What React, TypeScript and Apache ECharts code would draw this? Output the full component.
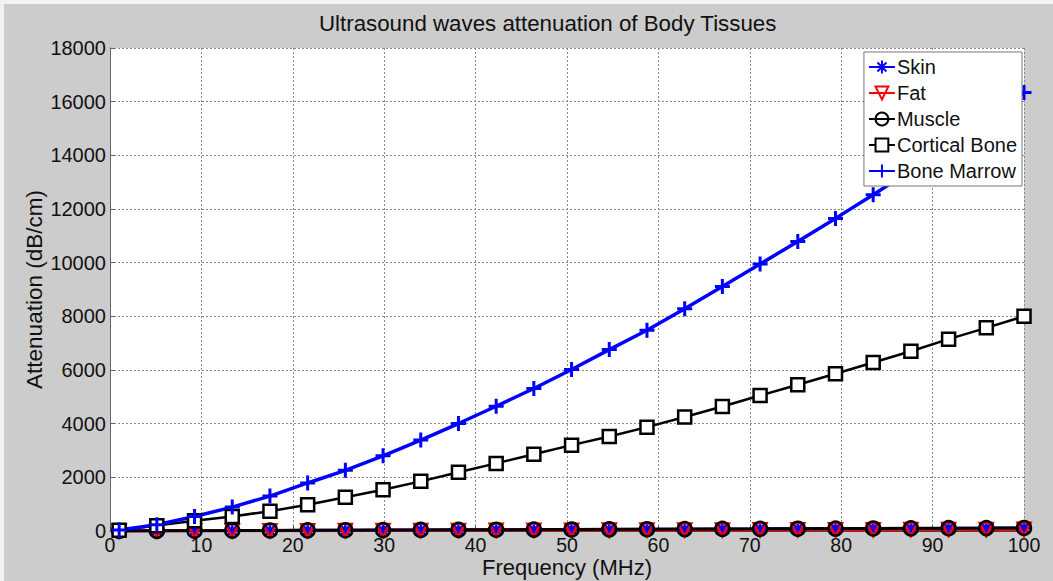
import React, { useEffect, useRef } from "react";
import * as echarts from "echarts";

const frequencies = [1, 5.125, 9.25, 13.375, 17.5, 21.625, 25.75, 29.875, 34, 38.125, 42.25, 46.375, 50.5, 54.625, 58.75, 62.875, 67, 71.125, 75.25, 79.375, 83.5, 87.625, 91.75, 95.875, 100];
const skin = [1, 5, 10, 14, 19, 24, 28, 33, 37, 42, 46, 51, 56, 60, 65, 69, 74, 79, 83, 88, 92, 97, 101, 106, 110];
const fat = [1, 3, 6, 8, 11, 13, 16, 18, 21, 23, 26, 28, 31, 33, 36, 38, 41, 43, 46, 48, 51, 53, 56, 58, 61];
const muscle = [1, 6, 11, 15, 20, 25, 29, 34, 39, 43, 48, 52, 57, 62, 66, 71, 76, 80, 85, 90, 94, 99, 104, 108, 113];
const corticalBone = [30, 200, 380, 540, 740, 980, 1260, 1540, 1850, 2190, 2520, 2860, 3200, 3520, 3870, 4250, 4640, 5050, 5450, 5860, 6280, 6700, 7150, 7570, 8000];
const boneMarrow = [40, 230, 540, 890, 1300, 1790, 2260, 2800, 3390, 4005, 4650, 5310, 6020, 6760, 7480, 8280, 9110, 9950, 10790, 11650, 12530, 13440, 14370, 15340, 16340];
const seriesNames = ["Skin", "Fat", "Muscle", "Cortical Bone", "Bone Marrow"];

const FONT = "'Liberation Sans', Arial, sans-serif";
const ASTERISK = "path://M0,-10L0,10M-10,0L10,0M-7,-7L7,7M-7,7L7,-7";
const PLUS = "path://M0,-10L0,10M-10,0L10,0";

function pairs(ys: number[]) {
  return frequencies.map((f, i) => [f, ys[i]]);
}

export default function App() {
  const ref = useRef<HTMLDivElement>(null);
  useEffect(() => {
    document.body.style.margin = "0";
    const chart = echarts.init(ref.current!, undefined, { renderer: "svg" });
    const mk = (name: string, ys: number[], color: string, symbol: string, size: number, fill: string, lw: number, bw: number, rotate = 0) => ({
      name,
      type: "line",
      data: pairs(ys),
      symbol,
      symbolSize: size,
      symbolRotate: rotate,
      showAllSymbol: true,
      lineStyle: { color, width: lw },
      itemStyle: { color: fill, borderColor: color, borderWidth: bw },
      emphasis: { disabled: true },
    });
    chart.setOption({
      animation: false,
      backgroundColor: "#cccccc",
      textStyle: { fontFamily: FONT },
      title: {
        text: "Ultrasound waves attenuation of Body Tissues",
        left: 310,
        top: 3,
        textStyle: { fontFamily: FONT, fontSize: 22.3, fontWeight: "normal", color: "#111" },
      },
      grid: { left: 106, right: 29, top: 44, bottom: 50, show: true, backgroundColor: "#ffffff", borderWidth: 0, outerBoundsMode: "none", containLabel: false },
      legend: {
        data: seriesNames,
        orient: "vertical",
        right: 31,
        top: 48,
        backgroundColor: "#ffffff",
        borderColor: "#777777",
        borderWidth: 1,
        borderRadius: 0,
        padding: [5, 5, 5, 4],
        itemWidth: 26,
        itemHeight: 16,
        itemGap: 6,
        textStyle: { fontFamily: FONT, fontSize: 20, color: "#111", padding: [0, 0, 0, -3] },
      },
      xAxis: {
        type: "value",
        min: 0,
        max: 100,
        interval: 10,
        name: "Frequency (MHz)",
        nameLocation: "middle",
        nameGap: 25,
        nameMoveOverlap: false,
        nameTextStyle: { fontFamily: FONT, fontSize: 22, color: "#111" },
        axisLine: { show: true, onZero: false, lineStyle: { color: "#444", width: 1 } },
        axisTick: { show: true, inside: true, length: 5, lineStyle: { color: "#444" } },
        axisLabel: { fontFamily: FONT, fontSize: 19.5, color: "#111", margin: 4 },
        splitLine: { show: true, lineStyle: { color: "#888", type: [2, 2], width: 1 } },
      },
      yAxis: {
        type: "value",
        min: 0,
        max: 18000,
        interval: 2000,
        name: "Attenuation (dB/cm)",
        nameLocation: "middle",
        nameGap: 64,
        nameMoveOverlap: false,
        nameTextStyle: { fontFamily: FONT, fontSize: 22.5, color: "#111" },
        axisLine: { show: true, lineStyle: { color: "#666", width: 1 } },
        axisTick: { show: true, inside: true, length: 5, lineStyle: { color: "#666" } },
        axisLabel: { fontFamily: FONT, fontSize: 20, color: "#111", margin: 4, formatter: (v: number) => String(v) },
        splitLine: { show: true, lineStyle: { color: "#888", type: [2, 2], width: 1 } },
      },
      series: [
        mk("Skin", skin, "#0000ff", ASTERISK, 13, "#0000ff", 3, 2.5),
        mk("Fat", fat, "#ff0000", "triangle", 13, "rgba(0,0,0,0)", 3, 2.5, 180),
        mk("Muscle", muscle, "#000000", "circle", 14, "rgba(0,0,0,0)", 3, 2.5),
        mk("Cortical Bone", corticalBone, "#000000", "rect", 13, "#ffffff", 2.5, 2.5),
        mk("Bone Marrow", boneMarrow, "#0000ff", PLUS, 15, "#0000ff", 3.5, 3),
      ],
    });
    return () => chart.dispose();
  }, []);
  return (
    <div style={{ position: "fixed", left: 0, top: 0, width: 1053, height: 581, background: "#f2f2f2" }}>
      <div ref={ref} style={{ position: "absolute", left: 4, top: 4, width: 1049, height: 577 }} />
    </div>
  );
}
